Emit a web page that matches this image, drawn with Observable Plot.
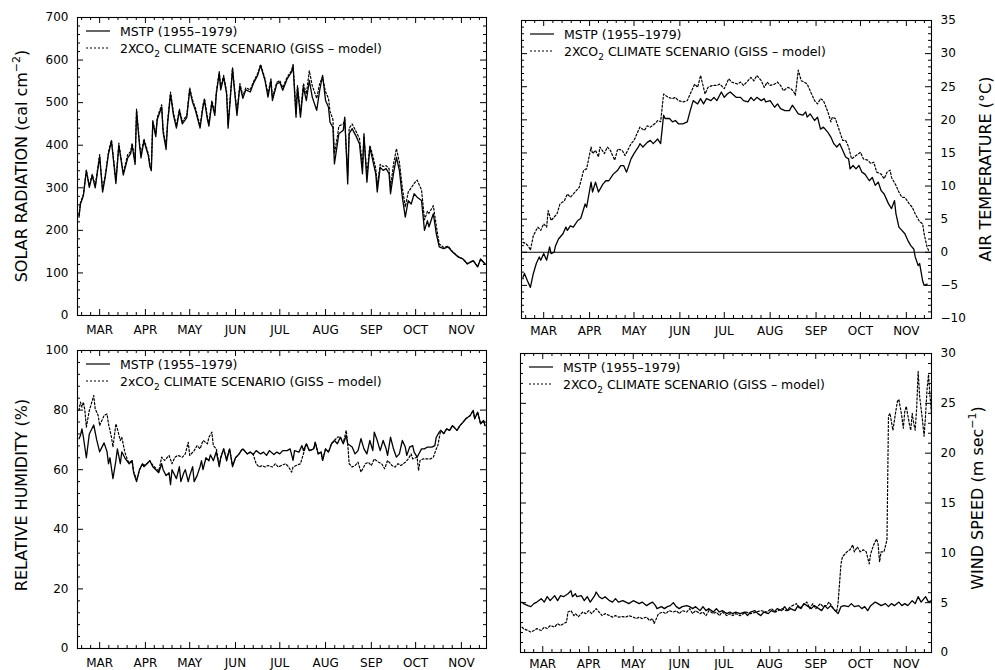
<!DOCTYPE html>
<html>
<head>
<meta charset="utf-8">
<script src="https://cdn.jsdelivr.net/npm/d3@7"></script>
<script src="https://cdn.jsdelivr.net/npm/@observablehq/plot@0.6"></script>
<style>
  html, body { margin: 0; padding: 0; background: #fff; }
  #chart { position: relative; width: 995px; height: 670px; font-family: "DejaVu Sans", sans-serif; }
  #chart svg { position: absolute; overflow: visible; }
</style>
</head>
<body>
<div id="chart"></div>
<script>
// Days are counted from 1 March (day 0); month ticks sit at mid-month.
const monthDay = [14, 45, 75, 106, 136, 167, 198, 228, 259];
const monthLabel = ["MAR", "APR", "MAY", "JUN", "JUL", "AUG", "SEP", "OCT", "NOV"];

// Solar radiation (cal cm-2), both series share the same days
const solarDay = [
  0,1,3,5,7,9,11,14,16,18,
  20,22,25,27,30,33,35,36,38,39,
  41,42,44,47,48,49,50,52,53,56,
  57,59,60,62,64,66,68,70,73,75,
  77,79,82,84,85,87,88,90,92,93,
  95,96,98,100,101,104,105,107,109,111,
  113,116,118,121,123,126,128,130,131,134,
  136,138,141,144,145,147,148,150,152,154,
  156,158,161,163,165,167,169,170,172,173,
  175,176,179,180,182,183,185,188,190,192,
  193,195,197,199,201,202,204,206,208,210,
  211,213,215,217,219,221,223,225,227,229,
  232,234,236,237,240,242,244,247,250,253,
  257,260,263,267,270,272,275];
const solarMstp = [
  231,262,282,340,301,329,300,373,290,330,
  380,410,310,400,330,370,380,400,355,480,
  400,370,410,375,350,340,455,420,460,490,
  430,390,450,520,470,440,480,450,465,530,
  500,480,440,490,505,460,445,500,470,520,
  570,530,560,520,440,580,540,470,540,510,
  530,525,544,564,587,552,513,552,505,544,
  548,529,556,572,587,466,536,466,536,505,
  552,513,482,529,564,505,489,454,442,356,
  403,427,435,466,309,427,439,419,403,333,
  427,313,395,364,333,290,348,341,345,333,
  286,333,372,341,278,231,270,262,286,278,
  270,200,223,208,239,192,161,157,161,149,
  137,133,121,129,114,133,121];
const solarGiss = [
  235,265,285,342,305,332,305,378,295,335,
  385,412,318,405,335,378,385,405,362,485,
  405,378,415,380,356,348,458,425,465,495,
  436,398,455,525,476,446,485,456,470,535,
  505,486,446,495,510,466,452,505,476,525,
  573,536,564,526,448,582,545,478,545,516,
  535,530,548,568,590,556,520,556,512,548,
  552,535,560,575,590,475,540,475,545,520,
  575,540,510,545,560,525,510,480,460,380,
  420,445,450,460,330,440,450,430,415,350,
  420,330,400,375,345,305,355,350,352,345,
  300,355,392,360,300,255,290,300,310,318,
  295,225,245,240,258,210,168,160,163,150,
  138,133,122,129,115,132,121];

// Air temperature (°C)
const tempMstpDay = [
  0,1,3,5,7,9,11,12,14,16,
  18,19,21,22,24,27,29,30,32,34,
  37,39,42,43,46,47,49,51,54,56,
  58,61,64,66,68,70,73,75,78,79,
  81,84,86,88,91,93,95,96,99,101,
  103,105,108,111,113,115,118,120,122,124,
  127,129,131,134,136,138,140,144,147,149,
  152,154,156,158,161,163,164,167,170,172,
  174,177,180,182,183,186,189,191,192,194,
  197,199,201,203,206,208,210,212,214,216,
  218,220,221,223,225,227,229,231,234,236,
  238,240,242,244,246,247,249,251,252,254,
  256,258,260,262,264,265,267,268,270,271,
  273];
const tempMstp = [
  -3.8,-3.2,-4.3,-5.3,-3.2,-1.7,-0.7,-1.2,-0.2,-1.2,
  0.8,-0.2,0.0,1.0,2.0,2.8,3.8,3.3,4.0,3.8,
  4.8,5.1,7.3,6.8,10.6,9.1,10.6,9.1,10.3,10.8,
  10.8,11.8,12.4,13.1,13.1,12.1,14.1,14.9,15.9,16.4,
  15.9,16.6,16.9,16.4,17.1,16.4,20.7,20.2,20.2,19.7,
  19.9,19.4,19.4,19.7,21.4,22.9,22.4,23.2,22.4,23.2,
  22.9,23.4,22.9,24.2,23.4,23.9,24.2,23.4,23.4,22.9,
  22.7,23.4,22.9,23.4,22.9,23.2,22.7,22.9,21.9,22.4,
  21.7,21.4,21.4,22.2,21.9,20.9,20.7,21.2,20.4,20.9,
  19.9,20.4,18.6,18.9,18.1,17.4,16.4,15.9,16.4,15.4,
  14.4,14.1,12.6,13.1,12.6,13.1,12.1,11.8,10.8,11.3,
  10.1,10.6,9.3,8.8,7.8,7.3,6.6,7.8,5.8,3.8,
  3.3,2.8,1.8,1.0,0.5,-0.7,-2.0,-1.7,-4.3,-5.0,
  -4.8];
const tempGissDay = [
  0,2,4,5,7,10,12,14,16,17,
  19,21,23,25,28,30,32,34,38,41,
  43,46,47,49,51,52,55,57,59,62,
  64,67,69,73,75,77,79,82,84,86,
  89,91,93,95,98,101,103,105,108,111,
  113,116,118,120,123,125,128,131,133,136,
  139,141,145,147,149,152,154,156,158,161,
  163,165,167,170,172,174,176,179,181,183,
  184,186,188,190,192,194,197,199,201,203,
  206,208,209,211,213,216,218,220,222,225,
  228,230,233,235,237,239,242,244,246,248,
  249,252,254,256,258,261,263,265,268,270,
  271,273,274];
const tempGiss = [
  1.5,1.3,0.8,0.3,2.5,3.8,3.3,4.3,3.8,6.3,
  4.8,5.3,5.8,7.3,7.8,8.8,8.3,8.8,9.8,12.4,
  12.6,15.9,14.9,15.4,14.4,15.9,14.9,15.9,15.4,13.9,
  15.6,15.4,14.6,16.4,16.9,17.9,18.9,18.4,19.1,18.9,
  19.4,19.9,19.7,23.9,23.4,23.2,23.4,22.9,22.7,22.9,
  23.9,25.4,24.9,26.7,23.9,24.9,25.2,25.2,25.4,24.7,
  26.2,25.7,25.4,25.7,25.2,25.9,26.4,25.9,26.7,25.9,
  24.9,25.7,25.2,25.4,25.7,25.2,24.4,24.9,24.7,24.2,
  23.7,27.5,25.9,25.7,25.4,24.4,22.9,22.4,23.2,22.9,
  21.2,19.7,20.4,20.2,18.9,16.9,16.9,15.9,14.1,14.6,
  15.1,14.1,13.9,13.4,13.6,12.1,11.8,11.1,12.1,12.4,
  11.3,10.1,9.1,8.3,8.3,7.3,6.8,5.8,4.6,4.3,
  2.8,0.8,0.3];

// Relative humidity (%)
const rhMstpDay = [
  0,1,2,3,5,7,10,12,14,16,
  17,19,20,21,23,25,26,28,29,31,
  34,36,37,39,41,43,44,46,48,50,
  52,54,56,57,59,61,62,63,65,66,
  68,69,71,72,74,75,77,78,80,82,
  83,84,86,88,89,91,93,95,96,98,
  100,102,104,106,108,110,111,114,116,118,
  120,123,125,127,129,132,134,136,138,141,
  143,145,146,149,151,152,154,156,159,160,
  162,164,165,167,169,171,173,175,177,179,
  181,182,185,187,189,191,193,195,197,199,
  200,202,204,206,208,209,211,213,215,217,
  219,221,222,224,226,227,229,232,234,236,
  239,241,242,244,245,247,249,251,253,256,
  258,260,262,265,267,268,270,272,274,275];
const rhMstp = [
  70.4,71.5,73.7,70.9,64,72,75,70,66,68,
  69,66,62,64,57,63,67,62,66,64,
  62,63,59,56,60,62,61,62,63,61,
  60,59,62,60,58,59,55,60,58,57,
  61,56,59,60,56,58,61,56,58,61,
  63,60,64,63,65,63,66,61,64,67,
  63,67,61,64,65,66.5,67,65.3,65.9,65.1,
  66.4,65.3,65.9,64.8,66.4,65.1,65.9,65.3,66.4,66.4,
  67,63.1,66.4,65.9,68.1,66.4,68.7,66.4,67,69.2,
  65.3,65.9,63.1,67,65.9,68.7,69.8,68.7,70.9,68.7,
  71.5,68.7,67.6,65.3,66.4,70.4,67,65.3,69.8,66.4,
  72.6,69.8,66.4,69.8,67,64.8,70.9,67,64.2,65.3,
  69.8,67.6,64.8,67.6,68.1,65.9,64.2,67,67,67.6,
  67.6,68.1,70.9,72.6,73.2,72.1,73.7,73.2,74.8,73.2,
  74.8,75.9,77.1,78.2,79.9,77.1,79.3,75.4,76.5,74.8];
const rhGissDay = [
  0,1,2,3,4,5,7,8,10,11,
  13,14,16,17,19,20,22,23,25,26,
  28,29,31,33,34,36,37,39,41,43,
  44,46,48,50,52,54,56,58,61,63,
  65,67,70,72,74,75,78,80,82,84,
  87,88,90,91,93,95,96,98,100,102,
  104,106,108,110,111,114,116,118,120,122,
  124,126,128,131,133,135,137,140,142,144,
  145,147,150,152,154,156,159,160,162,164,
  165,167,169,171,175,177,179,181,182,183,
  185,187,189,191,194,196,198,200,203,205,
  207,209,212,214,216,218,221,223,225,226,
  229,230,231,233,235,238,240,242,243,245,
  247,249,251,253,256,258,260,262,265,267,
  268,270,272,274,275];
const rhGiss = [
  79.9,82.7,81,82.7,79.9,74.3,79.9,81.5,84.9,80.4,
  78.2,74.8,77.1,78.2,78.7,75.4,70.9,67.6,75.4,73.7,
  69.8,70.9,66,63,62.5,63,59.5,56.5,60,62,
  61.5,62,63,61.5,60.5,59.5,64.2,63.1,64.8,62,
  64.2,64.8,64.2,65.3,69.2,64.8,66.4,68.1,67,69.8,
  68.7,70.9,72.6,68.1,67,61.5,64,67,63.5,67,
  61.5,64,65,66.5,67,65.3,65.9,65.1,62,60.9,
  61.4,60.9,61.4,60.9,62,60.9,61.4,62,60.9,59.2,
  60.9,61.4,62,65.3,68.7,66.4,67,69.2,65.3,65.9,
  63.1,67,65.9,68.7,70.9,71,69,73.2,68.7,62,
  60.9,61.4,62.5,59.2,62,62.5,61.4,63.6,62.5,62,
  60.3,63.1,61.4,60.9,62,61.4,62.5,63.6,65.3,63.6,
  64.2,59.7,63.1,63.6,63.6,63.6,64.2,67,68.1,73.2,
  72.1,73.7,73.2,74.8,73.2,74.8,75.9,77.1,78.2,79.9,
  77.1,79.3,75.4,76.5,74.8];

// Wind speed (m sec-1)
const windMstpDay = [
  0,1,4,6,8,10,13,15,17,19,
  22,24,26,28,31,33,34,36,37,40,
  42,44,46,49,50,52,54,56,59,61,
  63,65,68,70,72,75,77,79,81,84,
  86,88,90,91,94,96,98,100,102,104,
  106,108,111,113,115,117,120,122,124,126,
  129,131,133,135,138,140,142,144,147,150,
  152,154,157,159,161,163,166,168,170,172,
  175,177,179,181,184,186,188,190,193,195,
  197,200,202,204,206,208,211,213,215,217,
  220,222,224,227,229,231,233,235,238,240,
  242,245,247,249,251,254,256,258,260,263,
  265,267,269,272,274,276];
const windMstp = [
  5.06,4.9,4.7,4.6,4.9,5.06,5.4,5.06,5.6,5.2,
  5.7,5.2,5.7,5.6,5.9,6.2,5.6,5.9,5.6,5.7,
  5.2,5.6,5.06,5.7,6.07,5.6,5.4,5.6,5.2,5.06,
  5.4,5.06,5.2,5.06,4.9,5.2,5.06,4.9,5.06,4.7,
  4.9,5.06,4.7,4.4,4.6,4.4,4.6,4.7,5.0,4.6,
  4.4,4.6,4.7,4.6,4.4,4.6,4.2,4.6,4.2,4.4,
  4.06,4.4,4.06,4.2,3.9,4.06,3.9,4.06,3.9,4.06,
  3.7,4.06,4.2,3.9,3.7,4.06,3.9,4.2,4.06,4.4,
  4.2,4.6,4.2,4.4,4.2,4.7,4.4,4.9,4.6,4.4,
  4.7,4.4,4.2,4.7,4.4,4.7,4.2,3.9,4.6,4.7,
  4.6,4.9,4.6,4.7,4.4,4.6,4.2,4.7,5.06,4.9,
  4.7,4.9,4.6,4.9,4.7,5.06,4.7,4.9,4.7,5.2,
  4.9,5.6,5.06,5.6,5.06,5.2];
const windGissDay = [
  0,1,4,6,8,10,13,15,17,19,
  22,24,26,28,30,31,33,35,36,38,
  41,43,45,47,50,52,54,56,59,61,
  63,65,68,70,72,75,77,79,81,84,
  86,88,89,90,92,95,97,99,102,104,
  106,108,111,113,115,117,120,122,124,126,
  129,131,133,135,138,140,142,144,147,151,
  154,158,161,165,168,171,175,178,181,185,
  187,189,192,194,196,198,201,203,205,207,
  210,212,213,215,216,219,221,223,224,226,
  228,230,232,234,235,237,239,240,241,242,
  244,246,247,248,250,251,253,254,256,257,
  258,259,261,262,263,264,265,266,267,268,
  270,271,272,273,274,275,276];
const windGiss = [
  2.55,2.4,2.2,2.05,2.2,2.4,2.2,2.55,2.4,2.7,
  2.55,2.9,2.7,2.9,3.05,4.06,4.2,3.7,3.9,3.6,
  4.06,3.9,4.2,3.9,4.4,4.06,3.7,3.9,3.7,3.55,
  3.7,3.55,3.6,3.55,3.7,3.55,3.4,3.55,3.4,3.55,
  3.2,3.4,2.9,3.2,3.9,4.06,3.9,4.2,4.06,4.2,
  3.9,4.2,4.06,4.4,3.9,4.2,3.9,4.06,3.7,4.2,
  3.9,4.06,3.7,4.06,3.7,3.9,3.7,3.9,3.7,4.06,
  3.9,4.06,4.2,4.06,4.4,4.06,4.4,4.2,4.6,4.9,
  4.4,4.7,5.06,4.4,4.9,4.4,4.9,4.6,4.7,5.06,
  4.4,4.06,4.9,8.9,9.6,10.1,10.3,10.8,10.1,10.6,
  10.1,10.3,10.1,8.9,9.9,10.8,11.4,10.9,9.1,10.1,
  10.1,11.3,23.7,24.0,22.3,23.3,25.2,25.4,23.7,22.5,
  24.2,24.7,23.0,22.3,24.0,23.0,22.3,24.5,28.2,25.7,
  23.2,21.7,23.8,26.4,27.9,25.7,24.0];

const mstpLabel = "MSTP (1955–1979)";
const scenarioLabel = " CLIMATE SCENARIO (GISS – model)";

// Shorter ticks: each month divided into five steps
const xMinor = [];
for (let k = 1; k <= 2; k++) xMinor.push(monthDay[0] - k * 6.1);
for (let i = 0; i < monthDay.length - 1; i++) {
  const step = (monthDay[i + 1] - monthDay[i]) / 5;
  for (let k = 1; k < 5; k++) xMinor.push(monthDay[i] + k * step);
}
for (let k = 1; k <= 2; k++) xMinor.push(monthDay[monthDay.length - 1] + k * 6.1);

const panels = [
  {left: 0, top: 0, width: 497, height: 337, mt: 17, mr: 11, mb: 22, ml: 77,
   y: [0, 700], major: 100, minor: 20, side: "left", xPad: 10,
   d1: solarDay, v1: solarMstp, d2: solarDay, v2: solarGiss, co: "2XCO",
   title: ["SOLAR RADIATION (cal cm", "−2", ")"], tx: 21, ty: 166},
  {left: 497, top: 0, width: 498, height: 337, mt: 20, mr: 64, mb: 19, ml: 24,
   y: [-10, 35], major: 5, minor: 1, side: "right", xPad: 8, zero: true,
   d1: tempMstpDay, v1: tempMstp, d2: tempGissDay, v2: tempGiss, co: "2XCO",
   title: ["AIR TEMPERATURE (°C)"], tx: 488, ty: 169},
  {left: 0, top: 337, width: 497, height: 333, mt: 13, mr: 11, mb: 22, ml: 77,
   y: [0, 100], major: 20, minor: 4, side: "left", xPad: 10,
   d1: rhMstpDay, v1: rhMstp, d2: rhGissDay, v2: rhGiss, co: "2xCO",
   title: ["RELATIVE HUMIDITY (%)"], tx: 21, ty: 158},
  {left: 497, top: 337, width: 498, height: 333, mt: 16, mr: 64, mb: 18, ml: 23,
   y: [0, 30], major: 5, minor: 1, side: "right", xPad: 7,
   d1: windMstpDay, v1: windMstp, d2: windGissDay, v2: windGiss, co: "2XCO",
   title: ["WIND SPEED (m sec", "−1", ")"], tx: 480, ty: 161}
];

const chart = document.getElementById("chart");

for (const p of panels) {
  const fw = p.width - p.ml - p.mr;
  const fh = p.height - p.mt - p.mb;
  const yMajor = d3.range(p.y[0], p.y[1] + 1e-9, p.major);
  const yMinor = d3.range(p.y[0], p.y[1] + 1e-9, p.minor)
    .filter(v => Math.abs(v / p.major - Math.round(v / p.major)) > 1e-6);

  const marks = [];
  // inward ticks on all four sides of the frame
  for (const [vals, len] of [[xMinor, 3], [monthDay, 6]]) {
    marks.push(Plot.ruleX(vals, {x: d => d, insetTop: fh - len}));
    marks.push(Plot.ruleX(vals, {x: d => d, insetBottom: fh - len}));
  }
  for (const [vals, len] of [[yMinor, 3], [yMajor, 6]]) {
    marks.push(Plot.ruleY(vals, {y: d => d, insetRight: fw - len}));
    marks.push(Plot.ruleY(vals, {y: d => d, insetLeft: fw - len}));
  }
  if (p.zero) marks.push(Plot.ruleY([0], {strokeWidth: 1.1}));
  marks.push(Plot.line(p.d2, {x: p.d2, y: p.v2, stroke: "#000", strokeWidth: 1.2, strokeDasharray: "2,2"}));
  marks.push(Plot.line(p.d1, {x: p.d1, y: p.v1, stroke: "#000", strokeWidth: 1.3}));
  marks.push(Plot.frame({strokeWidth: 1.1}));
  marks.push(Plot.axisX(monthDay, {anchor: "bottom", tickSize: 0, tickPadding: p.xPad,
    tickFormat: d => monthLabel[monthDay.indexOf(d)], label: null}));
  marks.push(Plot.axisY(yMajor, {anchor: p.side, tickSize: 0, tickPadding: 9, label: null}));

  const svg = Plot.plot({
    width: p.width, height: p.height,
    marginTop: p.mt, marginRight: p.mr, marginBottom: p.mb, marginLeft: p.ml,
    x: {domain: [-1, 276]},
    y: {domain: p.y},
    style: {fontFamily: '"DejaVu Sans", sans-serif', fontSize: "12px", color: "#000", background: "transparent", overflow: "visible"},
    marks
  });
  svg.style.left = p.left + "px";
  svg.style.top = p.top + "px";
  chart.appendChild(svg);

  const s = d3.select(svg);

  // legend in the upper-left corner of the frame
  const lg = s.append("g").attr("transform", `translate(${p.ml},${p.mt})`)
    .attr("font-family", '"DejaVu Sans", sans-serif').attr("font-size", 12.5)
    .attr("fill", "#000").attr("text-anchor", "start");
  lg.append("line").attr("x1", 9).attr("x2", 33).attr("y1", 14).attr("y2", 14)
    .attr("stroke", "#000").attr("stroke-width", 1.2);
  lg.append("line").attr("x1", 9).attr("x2", 33).attr("y1", 31).attr("y2", 31)
    .attr("stroke", "#000").attr("stroke-width", 1.2).attr("stroke-dasharray", "2,2");
  lg.append("text").attr("x", 43).attr("y", 14).attr("dy", "0.36em").text(mstpLabel);
  const t2 = lg.append("text").attr("x", 43).attr("y", 31).attr("dy", "0.36em");
  t2.append("tspan").text(p.co);
  t2.append("tspan").attr("font-size", 9).attr("dy", 4).text("2");
  t2.append("tspan").attr("dy", -4).text(scenarioLabel);

  // rotated axis title
  const tt = s.append("text")
    .attr("transform", `translate(${p.tx},${p.ty}) rotate(-90)`)
    .attr("text-anchor", "middle").attr("dy", "0.36em")
    .attr("font-family", '"DejaVu Sans", sans-serif').attr("font-size", 16).attr("fill", "#000");
  tt.append("tspan").text(p.title[0]);
  if (p.title.length > 1) {
    tt.append("tspan").attr("font-size", 11).attr("dy", -7).text(p.title[1]);
    tt.append("tspan").attr("dy", 7).text(p.title[2]);
  }
}
</script>
</body>
</html>
